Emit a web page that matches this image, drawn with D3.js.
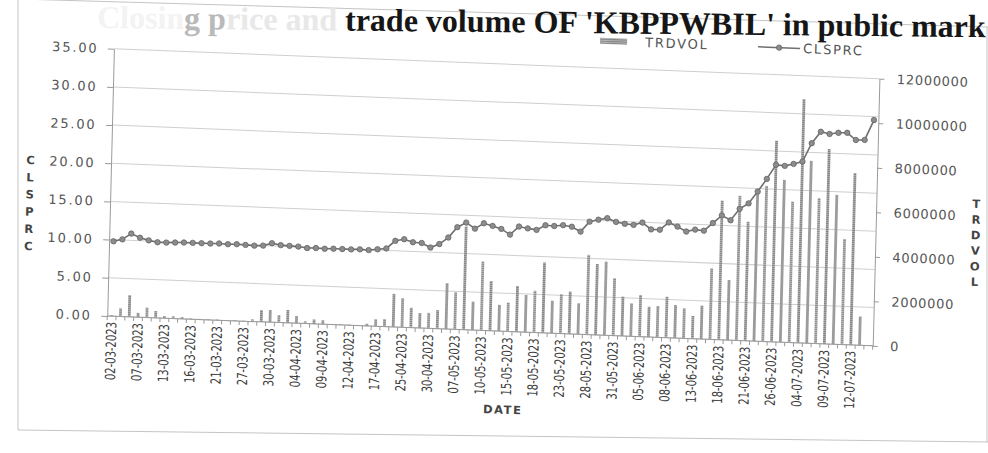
<!DOCTYPE html>
<html>
<head>
<meta charset="utf-8">
<script src="https://cdn.jsdelivr.net/npm/d3@7"></script>
<style>
  body { margin: 0; background: #fff; }
  svg { display: block; }
</style>
</head>
<body>
<div id="chart"></div>
<script>
// trading dates, only every third one gets a label on the axis
const dates = [
  "02-03-2023","03-03-2023","06-03-2023","07-03-2023","09-03-2023","10-03-2023",
  "13-03-2023","14-03-2023","15-03-2023","16-03-2023","17-03-2023","20-03-2023",
  "21-03-2023","22-03-2023","24-03-2023","27-03-2023","28-03-2023","29-03-2023",
  "30-03-2023","31-03-2023","03-04-2023","04-04-2023","05-04-2023","06-04-2023",
  "09-04-2023","10-04-2023","11-04-2023","12-04-2023","13-04-2023","14-04-2023",
  "17-04-2023","19-04-2023","21-04-2023","25-04-2023","26-04-2023","27-04-2023",
  "30-04-2023","02-05-2023","05-05-2023","07-05-2023","08-05-2023","09-05-2023",
  "10-05-2023","11-05-2023","12-05-2023","15-05-2023","16-05-2023","17-05-2023",
  "18-05-2023","19-05-2023","22-05-2023","23-05-2023","24-05-2023","25-05-2023",
  "28-05-2023","29-05-2023","30-05-2023","31-05-2023","01-06-2023","02-06-2023",
  "05-06-2023","06-06-2023","07-06-2023","08-06-2023","09-06-2023","12-06-2023",
  "13-06-2023","14-06-2023","15-06-2023","18-06-2023","19-06-2023","20-06-2023",
  "21-06-2023","22-06-2023","23-06-2023","26-06-2023","28-06-2023","30-06-2023",
  "04-07-2023","05-07-2023","06-07-2023","09-07-2023","10-07-2023","11-07-2023",
  "12-07-2023","13-07-2023","14-07-2023"
];

// closing price
const clsprc = [
  9.8, 10.1, 10.9, 10.4, 10.1, 9.9, 9.9, 9.95, 10.0, 10.0, 10.0, 10.0,
  10.05, 10.0, 10.05, 10.0, 9.95, 10.0, 10.35, 10.15, 10.1, 10.05, 9.9, 9.95,
  9.9, 9.95, 9.95, 9.95, 10.0, 9.95, 10.1, 10.25, 11.3, 11.55, 11.2, 11.15,
  10.6, 11.1, 12.0, 13.4, 14.05, 13.3, 14.05, 13.75, 13.4, 12.7, 13.8, 13.6,
  13.45, 14.1, 14.05, 14.2, 14.05, 13.45, 14.8, 15.1, 15.35, 14.9, 14.7, 14.6,
  14.95, 14.1, 14.1, 15.1, 14.6, 14.0, 14.3, 14.2, 15.25, 16.3, 15.7, 17.25,
  18.0, 19.6, 21.3, 23.2, 23.1, 23.4, 23.75, 26.2, 27.75, 27.5, 27.7, 27.75,
  26.85, 26.9, 29.55
];

// traded volume
const trdvol = [
  40000, 360000, 970000, 190000, 440000, 300000, 90000, 100000, 80000, 30000, 30000, 20000,
  30000, 20000, 30000, 20000, 100000, 530000, 550000, 340000, 580000, 330000, 100000, 200000,
  180000, 30000, 20000, 30000, 20000, 100000, 320000, 340000, 1490000, 1310000, 900000, 670000,
  700000, 840000, 2060000, 1670000, 4640000, 1280000, 3100000, 2240000, 1180000, 1300000, 2060000, 1670000,
  1880000, 3160000, 1460000, 1770000, 1900000, 1390000, 3580000, 3190000, 3310000, 2580000, 1770000, 1480000,
  1870000, 1360000, 1410000, 1840000, 1480000, 1350000, 1020000, 1500000, 3190000, 6250000, 2700000, 6500000,
  5350000, 6710000, 6990000, 9030000, 7290000, 6330000, 10950000, 8190000, 6530000, 8750000, 6710000, 4740000,
  7720000, 1290000, 0
];

const priceTicks = [0, 5, 10, 15, 20, 25, 30, 35];
const volTicks = [0, 2000000, 4000000, 6000000, 8000000, 10000000, 12000000];
const leftTitle = ["C", "L", "S", "P", "R", "C"];
const rightTitle = ["T", "R", "D", "V", "O", "L"];

const W = 988, H = 453;
const plot = { left: 110.5, right: 876, top: 63.6, bottom: 330.7 };
const tickFont = "'DejaVu Sans', Verdana, sans-serif";

const svg = d3.select("#chart").append("svg")
  .attr("width", W).attr("height", H)
  .style("background", "#fff");

// hatched grey fill of the volume bars
const pat = svg.append("defs").append("pattern")
  .attr("id", "hatch").attr("patternUnits", "userSpaceOnUse")
  .attr("width", 3).attr("height", 2);
pat.append("rect").attr("width", 3).attr("height", 2).attr("fill", "#b4b4b4");
pat.append("rect").attr("width", 3).attr("height", 1).attr("fill", "#858585");

// outer frame of the chart area (scanned page, slightly skewed)
svg.append("path")
  .attr("d", "M18,-1 L18,430 L988,442 M18,-1 L988,27 M987,27 L987,442")
  .attr("fill", "none").attr("stroke", "#c4c4c4").attr("stroke-width", 1);

// title, left half faded in the scan
const titleG = svg.append("g").attr("transform", "rotate(0.6,100,28)");
const pre = titleG.append("text")
  .attr("x", 337).attr("y", 28).attr("text-anchor", "end")
  .style("font-family", "'Liberation Serif', serif").style("font-weight", "bold")
  .style("font-size", "32px");
pre.append("tspan").attr("fill", "#f3f3f3").text("Closin");
pre.append("tspan").attr("fill", "#b9b9b9").text("g p");
pre.append("tspan").attr("fill", "#e8e8e8").text("rice and");
titleG.append("text")
  .attr("x", 345).attr("y", 28)
  .attr("fill", "#161616")
  .style("font-family", "'Liberation Serif', serif").style("font-weight", "bold")
  .style("font-size", "32px")
  .text("trade volume OF 'KBPPWBIL' in public mark");

// everything inside the chart is drawn straight and then tilted like the scan
const g = svg.append("g")
  .attr("transform", "translate(490,200) matrix(1,0.039,-0.025,1,0,0) translate(-490,-200)");

const x = d3.scaleBand().domain(dates).range([plot.left, plot.right]).padding(0);
const bw = x.bandwidth();
const yL = d3.scaleLinear().domain([0, 35]).range([plot.bottom, plot.top]);
const yR = d3.scaleLinear().domain([0, 12000000]).range([plot.bottom, plot.top]);

// horizontal gridlines
g.append("g").selectAll("line").data(priceTicks).join("line")
  .attr("x1", plot.left).attr("x2", plot.right)
  .attr("y1", d => yL(d)).attr("y2", d => yL(d))
  .attr("stroke", "#cfcfcf").attr("stroke-width", 1);

// volume bars
g.append("g").selectAll("rect").data(trdvol).join("rect")
  .attr("x", (d, i) => x(dates[i]) + bw / 2 - 1.4)
  .attr("width", 2.8)
  .attr("y", d => yR(d))
  .attr("height", d => plot.bottom - yR(d))
  .attr("fill", "url(#hatch)");

// closing price line with markers
const line = d3.line()
  .x((d, i) => x(dates[i]) + bw / 2)
  .y(d => yL(d));
g.append("path").datum(clsprc)
  .attr("d", line).attr("fill", "none")
  .attr("stroke", "#6f6f6f").attr("stroke-width", 1.6);
g.append("g").selectAll("circle").data(clsprc).join("circle")
  .attr("cx", (d, i) => x(dates[i]) + bw / 2)
  .attr("cy", d => yL(d))
  .attr("r", 2.7)
  .attr("fill", "#8c8c8c").attr("stroke", "#666").attr("stroke-width", 0.8);

// left axis
const axL = g.append("g").attr("transform", `translate(${plot.left},0)`)
  .call(d3.axisLeft(yL).tickValues(priceTicks).tickFormat(d3.format(".2f"))
    .tickSize(6).tickSizeOuter(0).tickPadding(9.5));
axL.select(".domain").attr("stroke", "#9a9a9a");
axL.selectAll(".tick line").attr("stroke", "#9a9a9a");
axL.selectAll("text").attr("fill", "#555")
  .style("font-family", tickFont).style("font-size", "13px").style("letter-spacing", "1.8px");

// right axis
const axR = g.append("g").attr("transform", `translate(${plot.right},0)`)
  .call(d3.axisRight(yR).tickValues(volTicks).tickFormat(d3.format("d"))
    .tickSize(5).tickSizeOuter(0).tickPadding(12.5));
axR.select(".domain").attr("stroke", "#9a9a9a");
axR.selectAll(".tick line").attr("stroke", "#9a9a9a");
axR.selectAll("text").attr("fill", "#555")
  .style("font-family", tickFont).style("font-size", "13px").style("letter-spacing", "0.7px");

// category axis: tick marks between all categories, labels on every third
g.append("line")
  .attr("x1", plot.left).attr("x2", plot.right)
  .attr("y1", plot.bottom).attr("y2", plot.bottom)
  .attr("stroke", "#9a9a9a");
g.append("g").selectAll("line").data(d3.range(dates.length + 1)).join("line")
  .attr("x1", i => plot.left + i * bw).attr("x2", i => plot.left + i * bw)
  .attr("y1", plot.bottom).attr("y2", plot.bottom + 4)
  .attr("stroke", "#9a9a9a");
const axX = g.append("g").attr("transform", `translate(0,${plot.bottom})`)
  .call(d3.axisBottom(x).tickValues(dates.filter((d, i) => i % 3 === 0)).tickSize(0));
axX.select(".domain").remove();
axX.selectAll("text")
  .attr("transform", "rotate(-90)")
  .attr("x", -6).attr("y", 0).attr("dy", "0.35em")
  .attr("text-anchor", "end")
  .attr("textLength", 58).attr("lengthAdjust", "spacingAndGlyphs")
  .attr("fill", "#3a3a3a")
  .style("font-family", "'DejaVu Sans Condensed', 'DejaVu Sans', sans-serif")
  .style("font-size", "14px");

// axis titles
const titleStyle = sel => sel.attr("text-anchor", "middle").attr("dy", "0.35em")
  .attr("fill", "#444")
  .style("font-family", tickFont).style("font-weight", "bold").style("font-size", "11.5px");
g.append("g").selectAll("text").data(leftTitle).join("text")
  .attr("x", 30).attr("y", (d, i) => 178 + i * 17.2).text(d => d).call(titleStyle);
g.append("g").selectAll("text").data(rightTitle).join("text")
  .attr("x", 976).attr("y", (d, i) => 185 + i * 15.6).text(d => d).call(titleStyle);
g.append("text").attr("x", 508).attr("y", 409).text("DATE").call(titleStyle)
  .style("letter-spacing", "1.5px");

// legend
const lg = g.append("g").attr("transform", "translate(0,36.5)");
lg.append("rect").attr("x", 596).attr("y", -3).attr("width", 27).attr("height", 6)
  .attr("fill", "url(#hatch)");
lg.append("text").attr("x", 641).attr("y", 0).attr("dy", "0.35em").text("TRDVOL")
  .attr("fill", "#555").style("font-family", tickFont).style("font-size", "13px")
  .style("letter-spacing", "1.8px");
lg.append("line").attr("x1", 754).attr("x2", 796).attr("y1", 0).attr("y2", 0)
  .attr("stroke", "#6f6f6f").attr("stroke-width", 1.6);
lg.append("circle").attr("cx", 775).attr("cy", 0).attr("r", 2.7)
  .attr("fill", "#8c8c8c").attr("stroke", "#666").attr("stroke-width", 0.8);
lg.append("text").attr("x", 799).attr("y", 0).attr("dy", "0.35em").text("CLSPRC")
  .attr("fill", "#555").style("font-family", tickFont).style("font-size", "13px")
  .style("letter-spacing", "1.8px");
</script>
</body>
</html>
